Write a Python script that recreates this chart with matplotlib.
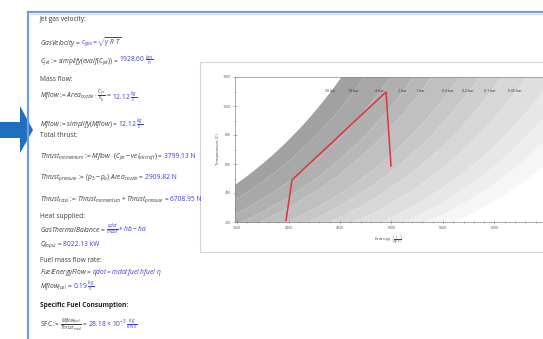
import numpy as np
import matplotlib
matplotlib.use("Agg")
import matplotlib.pyplot as plt
from matplotlib.patches import Rectangle, Polygon

plt.rcParams['font.family'] = ['Open Sans', 'DejaVu Sans']
plt.rcParams['mathtext.fontset'] = 'custom'
plt.rcParams['mathtext.rm'] = 'Open Sans'
plt.rcParams['mathtext.it'] = 'Open Sans:italic'
plt.rcParams['mathtext.bf'] = 'Open Sans:bold'

# ---------------- data ----------------
isobar_labels = ["20 bar", "10 bar", "4 bar", "2 bar", "1 bar", "0.4 bar", "0.2 bar", "0.1 bar", "0.05 bar"]
isobar_s1100 = [4403, 4626, 4879, 5102, 5277, 5549, 5743, 5956, 6199]
# lower pressure isobars beyond the visible labels (unlabelled, cropped)
extra_s1100 = [6461, 6680, 6900, 7160]
cp_gas = 1476.0

cycle_s = [3976, 4034, 4947, 4995]
cycle_T = [212, 490, 1097, 586]

x_ticks = [3500, 4000, 4500, 5000, 5500, 6000]
y_ticks = [200, 400, 600, 800, 1000, 1200]

W, H = 543, 339
fig = plt.figure(figsize=(W / 100, H / 100), dpi=100)
fig.patch.set_facecolor('white')

def fx(px):
    return px / W

def fy(py):
    return 1 - py / H

# ---------- document frame ----------
fig.add_artist(plt.Line2D([fx(28), fx(28)], [fy(12), 0], color='#6f9fd8', lw=1.6, transform=fig.transFigure))
fig.add_artist(plt.Line2D([fx(28), 1], [fy(12), fy(12)], color='#6f9fd8', lw=1.6, transform=fig.transFigure))
fig.add_artist(plt.Line2D([fx(30), 1], [fy(14), fy(14)], color='#dcdcdc', lw=0.8, transform=fig.transFigure))

# big blue arrow (pixel outline)
arrow_px = [(0, 122), (20, 122), (20, 106), (33, 130), (20, 153), (20, 138), (0, 138)]
fig.add_artist(Polygon([(fx(a), fy(b)) for a, b in arrow_px], closed=True,
                       transform=fig.transFigure, color='#1f6fc0', lw=0))

# chart frame
fig.add_artist(Rectangle((fx(200), fy(252)), 1 - fx(200) + 0.01, (252 - 62) / H,
                         transform=fig.transFigure, fill=False, ec='#d4d4d4', lw=0.8))

# ---------- text ----------
BLK = '#3a3a3a'
BLU = '#3b3bd6'
FS = 4.8
renderer = fig.canvas.get_renderer()

def line(px, py, parts, size=FS, weight='normal'):
    x = fx(px)
    for s, c in parts:
        t = fig.text(x, fy(py), s, color=c, fontsize=size, va='baseline', ha='left', weight=weight)
        bb = t.get_window_extent(renderer)
        x += bb.width / fig.bbox.width

X0 = 40
line(X0, 21, [("Jet gas velocity:", BLK)])
line(X0, 45, [(r"$\mathit{GasVelocity}$ = ", BLK), (r"$c_{\mathit{gas}}=\sqrt{\gamma\ R\ T}$", BLU)])
line(X0, 63, [(r"$C_{\mathit{jet}}$ := $\mathit{simplify}(\mathit{evalf}(C_{\mathit{jet}}))$ = ", BLK),
              (r"1928.60 $\frac{km}{h}$", BLU)])
line(X0, 81, [("Mass flow:", BLK)])
line(X0, 99, [(r"$\mathit{Mflow}$ := $\mathit{Area}_{\mathit{nozzle}}\cdot\frac{C_{\mathit{jet}}}{v_g}$ = ", BLK),
              (r"12.12 $\frac{kg}{s}$", BLU)])
line(X0, 126, [(r"$\mathit{Mflow}$ := $\mathit{simplify}(\mathit{Mflow})$ = ", BLK), (r"12.12 $\frac{kg}{s}$", BLU)])
line(X0, 137, [("Total thrust:", BLK)])
line(X0, 158, [(r"$\mathit{Thrust}_{\mathit{momentum}}$ := $\mathit{Mflow}\cdot(C_{\mathit{jet}}-\mathit{vel}_{\mathit{aircraft}})$ = ", BLK),
               ("3799.13 N", BLU)])
line(X0, 179, [(r"$\mathit{Thrust}_{\mathit{pressure}}$ := $(p_3-p_a)\ \mathit{Area}_{\mathit{nozzle}}$ = ", BLK),
               ("2909.82 N", BLU)])
line(X0, 201, [(r"$\mathit{Thrust}_{\mathit{total}}$ := $\mathit{Thrust}_{\mathit{momentum}}+\mathit{Thrust}_{\mathit{pressure}}$ = ", BLK),
               ("6708.95 N", BLU)])
line(X0, 218, [("Heat supplied:", BLK)])
line(X0, 232, [(r"$\mathit{GasThermalBalance}$ = ", BLK), (r"$\frac{\mathit{qdot}}{\mathit{mdot}}+\mathit{hb}-\mathit{ha}$", BLU)])
line(X0, 246, [(r"$Q_{\mathit{input}}$ = ", BLK), ("8022.13 kW", BLU)])
line(X0, 262, [("Fuel mass flow rate:", BLK)])
line(X0, 274, [(r"$\mathit{FuelEnergyFlow}$ = ", BLK), (r"$\mathit{qdot}=\mathit{mdotfuel}\ \mathit{hfuel}\ \eta$", BLU)])
line(X0, 288, [(r"$\mathit{Mflow}_{\mathit{fuel}}$ = ", BLK), (r"0.19 $\frac{kg}{s}$", BLU)])
line(X0, 307, [("Specific Fuel Consumption:", '#202020')], weight='bold')
line(X0, 327, [(r"SFC := $\frac{\mathit{Mflow}_{\mathit{fuel}}}{\mathit{Thrust}_{\mathit{total}}}$ = ", BLK),
               (r"28.18 $\times$ 10$^{-3}$ $\frac{kg}{kN\ s}$", BLU)])

# ---------- chart ----------
ax_left, ax_right, ax_top, ax_bot = 235, 543, 77, 222
ax = fig.add_axes([fx(ax_left), fy(ax_bot), fx(ax_right - ax_left), (ax_bot - ax_top) / H])
ax.set_facecolor('white')

s_all = isobar_s1100 + extra_s1100
T = np.linspace(150, 1250, 300)
TK = T + 273.15
curves = [s0 + cp_gas * np.log(TK / (1100 + 273.15)) for s0 in s_all]
nb = len(curves) - 1
greys = np.linspace(0.63, 0.965, nb)
for k in range(nb):
    g = greys[k]
    ax.fill_betweenx(T, curves[k], curves[k + 1], color=(g, g, g), lw=0, zorder=1)

for lab, s0 in zip(isobar_labels, isobar_s1100):
    ax.text(s0, 1100, lab, fontsize=2.6, color='#333333', ha='center', va='center', zorder=3)

ax.plot(cycle_s, cycle_T, color='#e0343a', lw=1.1, zorder=4)

s_per_px = 500 / 51.5
xl = 3500 - 2 * s_per_px
ax.set_xlim(xl, xl + (ax_right - ax_left) * s_per_px)
ax.set_ylim(200, 1200)
ax.set_xticks(x_ticks)
ax.set_xticks(np.arange(3500, 6500, 100), minor=True)
ax.set_yticks(y_ticks)
ax.set_yticks(np.arange(200, 1201, 100), minor=True)
ax.set_xticklabels([str(v) for v in x_ticks])
ax.set_yticklabels([str(v) for v in y_ticks])
ax.tick_params(which='both', labelsize=2.6, labelcolor='#555555', color='#888888', width=0.4, direction='inout', pad=1.5)
ax.tick_params(which='major', length=2.5)
ax.tick_params(which='minor', length=1.5)
for sp in ['left', 'bottom', 'top']:
    ax.spines[sp].set_color('#888888')
    ax.spines[sp].set_linewidth(0.5)
ax.spines['right'].set_visible(False)
ax.set_xlabel(r"Entropy $\left(\frac{J}{kg\ K}\right)$", fontsize=3.2, color='#444444', labelpad=1.5)
ax.set_ylabel("Temperature (C)", fontsize=3.0, color='#444444', labelpad=2)

fig.savefig("out.png", dpi=100)
